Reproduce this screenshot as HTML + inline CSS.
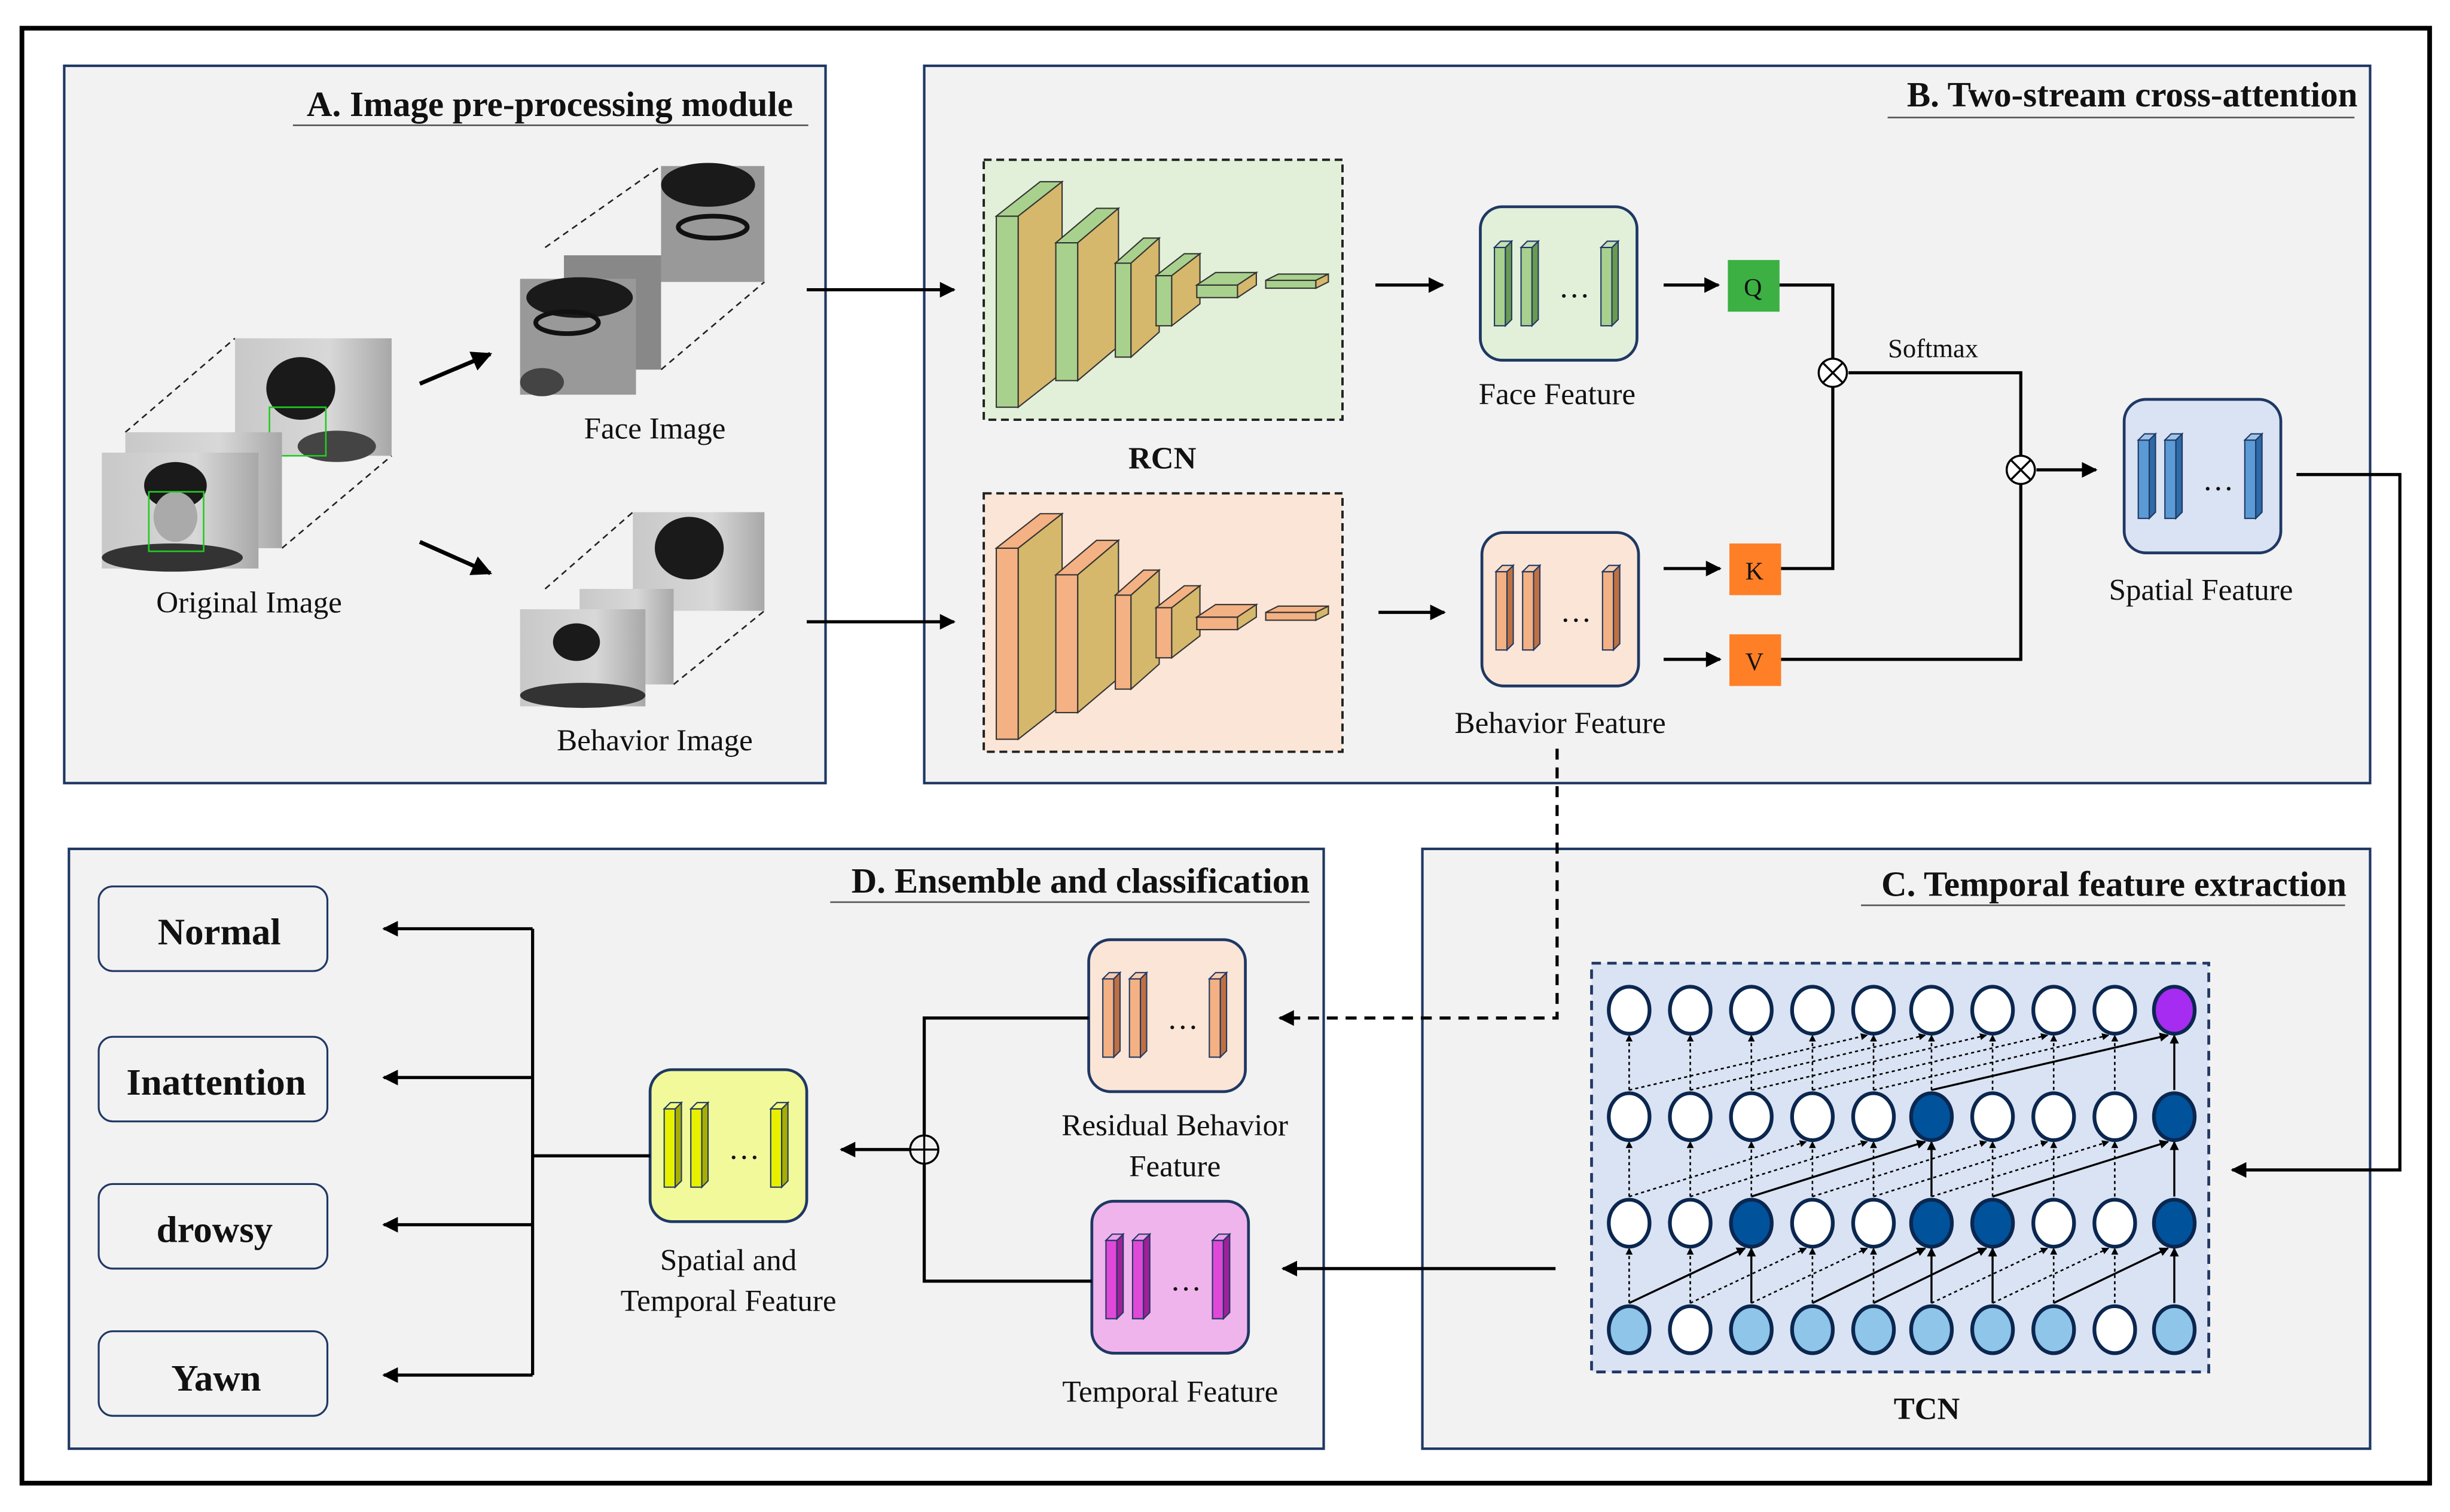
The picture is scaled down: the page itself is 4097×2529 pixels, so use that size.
<!DOCTYPE html>
<html><head><meta charset="utf-8"><style>html,body{margin:0;padding:0;background:#fff}svg{display:block}text{font-family:"Liberation Serif",serif;fill:#111}</style></head>
<body>
<svg width="4097" height="2529" viewBox="0 0 1564 965.4" xmlns="http://www.w3.org/2000/svg">
<defs>
<marker id="ah" viewBox="0 0 10 10" refX="9" refY="5" markerWidth="4.5" markerHeight="4.5" orient="auto-start-reverse"><path d="M0,0L10,5L0,10z" fill="#000"/></marker>
<marker id="sh" viewBox="0 0 10 10" refX="9" refY="5" markerWidth="5" markerHeight="5" orient="auto"><path d="M0,0L10,5L0,10z" fill="#000"/></marker>
<linearGradient id="ph" x1="0" y1="0" x2="1" y2="0"><stop offset="0" stop-color="#c8c8c8"/><stop offset="0.6" stop-color="#d8d8d8"/><stop offset="1" stop-color="#a8a8a8"/></linearGradient>
</defs>
<rect x="0" y="0" width="1564" height="966" fill="#fff"/>
<rect x="14" y="18" width="1537" height="929" fill="#fff" stroke="#000" stroke-width="3"/>
<!-- panels -->
<rect x="41" y="42" width="486" height="458" fill="#f2f2f2" stroke="#1f3864" stroke-width="1.6"/>
<rect x="590" y="42" width="923" height="458" fill="#f2f2f2" stroke="#1f3864" stroke-width="1.6"/>
<rect x="44" y="542" width="801" height="383" fill="#f2f2f2" stroke="#1f3864" stroke-width="1.6"/>
<rect x="908" y="542" width="605" height="383" fill="#f2f2f2" stroke="#1f3864" stroke-width="1.6"/>

<!-- titles -->
<text x="351" y="74" font-size="22.5" font-weight="bold" text-anchor="middle">A.  Image pre-processing module</text>
<line x1="187" y1="80" x2="516" y2="80" stroke="#555" stroke-width="1"/>
<text x="1505" y="68" font-size="22.5" font-weight="bold" text-anchor="end">B. Two-stream cross-attention</text>
<line x1="1205" y1="75" x2="1503" y2="75" stroke="#555" stroke-width="1"/>
<text x="836" y="570" font-size="22.5" font-weight="bold" text-anchor="end">D. Ensemble and classification</text>
<line x1="530" y1="576" x2="836" y2="576" stroke="#555" stroke-width="1"/>
<text x="1498" y="572" font-size="22.5" font-weight="bold" text-anchor="end">C. Temporal feature extraction</text>
<line x1="1188" y1="578" x2="1497" y2="578" stroke="#555" stroke-width="1"/>

<!-- Panel A images -->
<g stroke="#222" stroke-width="1" stroke-dasharray="4,3" fill="none">
<line x1="80" y1="276" x2="150" y2="216"/><line x1="180" y1="350" x2="250" y2="291"/>
<line x1="348" y1="158" x2="422" y2="106"/><line x1="422" y1="236" x2="488" y2="180"/>
<line x1="348" y1="376" x2="404" y2="327"/><line x1="430" y1="437" x2="488" y2="390"/>
</g>
<g>
<rect x="150" y="216" width="100" height="75" fill="url(#ph)"/><ellipse cx="192" cy="248" rx="22" ry="20" fill="#1a1a1a"/><ellipse cx="215" cy="285" rx="25" ry="10" fill="#444"/><rect x="172" y="260" width="36" height="31" fill="none" stroke="#2c2" stroke-width="1"/>
<rect x="80" y="276" width="100" height="74" fill="url(#ph)"/>
<rect x="65" y="289" width="100" height="74" fill="url(#ph)"/><ellipse cx="112" cy="310" rx="20" ry="15" fill="#1a1a1a"/><ellipse cx="112" cy="330" rx="14" ry="16" fill="#aaa"/><ellipse cx="110" cy="356" rx="45" ry="9" fill="#333"/><rect x="95" y="314" width="35" height="38" fill="none" stroke="#2c2" stroke-width="1"/>
<rect x="422" y="106" width="66" height="74" fill="#999"/><ellipse cx="452" cy="118" rx="30" ry="14" fill="#1a1a1a"/><ellipse cx="455" cy="145" rx="22" ry="7" fill="none" stroke="#111" stroke-width="3"/>
<rect x="360" y="163" width="62" height="73" fill="#888"/>
<rect x="332" y="178" width="74" height="74" fill="#999"/><ellipse cx="370" cy="190" rx="34" ry="13" fill="#1a1a1a"/><ellipse cx="362" cy="206" rx="20" ry="7" fill="none" stroke="#111" stroke-width="3"/><ellipse cx="346" cy="244" rx="14" ry="9" fill="#444"/>
<rect x="404" y="327" width="84" height="63" fill="url(#ph)"/><ellipse cx="440" cy="350" rx="22" ry="20" fill="#1a1a1a"/>
<rect x="370" y="376" width="60" height="61" fill="url(#ph)"/>
<rect x="332" y="389" width="80" height="62" fill="url(#ph)"/><ellipse cx="368" cy="410" rx="15" ry="12" fill="#1a1a1a"/><ellipse cx="372" cy="444" rx="40" ry="8" fill="#333"/>
</g>
<g stroke="#000" stroke-width="2.6" marker-end="url(#sh)">
<line x1="268" y1="245" x2="313" y2="226"/><line x1="268" y1="346" x2="313" y2="366"/>
</g>
<g font-size="19.5" text-anchor="middle">
<text x="418" y="280">Face Image</text><text x="159" y="391">Original Image</text><text x="418" y="479">Behavior Image</text>
</g>
<g stroke="#000" stroke-width="2" marker-end="url(#sh)">
<line x1="515" y1="185" x2="609" y2="185"/><line x1="515" y1="397" x2="609" y2="397"/>
</g>

<!-- RCN green -->
<rect x="628" y="102" width="229" height="166" fill="#e2f0d9" stroke="#222" stroke-width="1.5" stroke-dasharray="5,3"/>
<g stroke="#333" stroke-width="0.8">
<rect x="636" y="138" width="14" height="122" fill="#a9d18e"/><polygon points="636,138 664,116 678,116 650,138" fill="#a9d18e"/><polygon points="650,138 678,116 678,238 650,260" fill="#d6b86c"/>
<rect x="674" y="155" width="14" height="88" fill="#a9d18e"/><polygon points="674,155 700,133 714,133 688,155" fill="#a9d18e"/><polygon points="688,155 714,133 714,221 688,243" fill="#d6b86c"/>
<rect x="712" y="168" width="10" height="60" fill="#a9d18e"/><polygon points="712,168 730,152 740,152 722,168" fill="#a9d18e"/><polygon points="722,168 740,152 740,212 722,228" fill="#d6b86c"/>
<rect x="738" y="176" width="10" height="32" fill="#a9d18e"/><polygon points="738,176 756,162 766,162 748,176" fill="#a9d18e"/><polygon points="748,176 766,162 766,194 748,208" fill="#d6b86c"/>
<rect x="764" y="182" width="26" height="8" fill="#a9d18e"/><polygon points="764,182 776,174 802,174 790,182" fill="#a9d18e"/><polygon points="790,182 802,174 802,182 790,190" fill="#d6b86c"/>
<rect x="808" y="179" width="32" height="5" fill="#a9d18e"/><polygon points="808,179 816,175 848,175 840,179" fill="#a9d18e"/><polygon points="840,179 848,175 848,180 840,184" fill="#d6b86c"/>
</g>
<text x="742" y="299" font-size="20" font-weight="bold" text-anchor="middle">RCN</text>
<!-- RCN orange -->
<rect x="628" y="315" width="229" height="165" fill="#fbe5d6" stroke="#222" stroke-width="1.5" stroke-dasharray="5,3"/>
<g stroke="#333" stroke-width="0.8" transform="translate(0,212)">
<rect x="636" y="138" width="14" height="122" fill="#f4b183"/><polygon points="636,138 664,116 678,116 650,138" fill="#f4b183"/><polygon points="650,138 678,116 678,238 650,260" fill="#d6b86c"/>
<rect x="674" y="155" width="14" height="88" fill="#f4b183"/><polygon points="674,155 700,133 714,133 688,155" fill="#f4b183"/><polygon points="688,155 714,133 714,221 688,243" fill="#d6b86c"/>
<rect x="712" y="168" width="10" height="60" fill="#f4b183"/><polygon points="712,168 730,152 740,152 722,168" fill="#f4b183"/><polygon points="722,168 740,152 740,212 722,228" fill="#d6b86c"/>
<rect x="738" y="176" width="10" height="32" fill="#f4b183"/><polygon points="738,176 756,162 766,162 748,176" fill="#f4b183"/><polygon points="748,176 766,162 766,194 748,208" fill="#d6b86c"/>
<rect x="764" y="182" width="26" height="8" fill="#f4b183"/><polygon points="764,182 776,174 802,174 790,182" fill="#f4b183"/><polygon points="790,182 802,174 802,182 790,190" fill="#d6b86c"/>
<rect x="808" y="179" width="32" height="5" fill="#f4b183"/><polygon points="808,179 816,175 848,175 840,179" fill="#f4b183"/><polygon points="840,179 848,175 848,180 840,184" fill="#d6b86c"/>
</g>

<!-- feature boxes -->
<g stroke="#1f3864" stroke-width="1.8">
<rect x="945" y="132" width="100" height="98" rx="14" fill="#e2f0d9"/>
<rect x="946" y="340" width="100" height="98" rx="14" fill="#fbe5d6"/>
<rect x="1356" y="255" width="100" height="98" rx="14" fill="#dae3f3"/>
<rect x="695" y="600" width="100" height="97" rx="14" fill="#fbe5d6"/>
<rect x="697" y="767" width="100" height="97" rx="14" fill="#f0b4ec"/>
<rect x="415" y="683" width="100" height="97" rx="14" fill="#f2f99a"/>
</g>
<g stroke="#1f3864" stroke-width="0.8">
<rect x="954" y="158" width="7" height="50" fill="#a9d18e"/><polygon points="961,158 965,154 965,204 961,208" fill="#6a9a50"/><polygon points="954,158 958,154 965,154 961,158" fill="#c5e0b4"/>
<rect x="971" y="158" width="7" height="50" fill="#a9d18e"/><polygon points="978,158 982,154 982,204 978,208" fill="#6a9a50"/><polygon points="971,158 975,154 982,154 978,158" fill="#c5e0b4"/>
<rect x="1022" y="158" width="7" height="50" fill="#a9d18e"/><polygon points="1029,158 1033,154 1033,204 1029,208" fill="#6a9a50"/><polygon points="1022,158 1026,154 1033,154 1029,158" fill="#c5e0b4"/>
</g>
<text x="1005" y="190" font-size="20" text-anchor="middle">…</text>
<g stroke="#1f3864" stroke-width="0.8" transform="translate(1,207)">
<rect x="954" y="158" width="7" height="50" fill="#f4b183"/><polygon points="961,158 965,154 965,204 961,208" fill="#c07040"/><polygon points="954,158 958,154 965,154 961,158" fill="#f8cbad"/>
<rect x="971" y="158" width="7" height="50" fill="#f4b183"/><polygon points="978,158 982,154 982,204 978,208" fill="#c07040"/><polygon points="971,158 975,154 982,154 978,158" fill="#f8cbad"/>
<rect x="1022" y="158" width="7" height="50" fill="#f4b183"/><polygon points="1029,158 1033,154 1033,204 1029,208" fill="#c07040"/><polygon points="1022,158 1026,154 1033,154 1029,158" fill="#f8cbad"/>
</g>
<text x="1006" y="397" font-size="20" text-anchor="middle">…</text>
<g stroke="#1f3864" stroke-width="0.8" transform="translate(411,123)">
<rect x="954" y="158" width="7" height="50" fill="#5b9bd5"/><polygon points="961,158 965,154 965,204 961,208" fill="#2e6aa8"/><polygon points="954,158 958,154 965,154 961,158" fill="#9dc3e6"/>
<rect x="971" y="158" width="7" height="50" fill="#5b9bd5"/><polygon points="978,158 982,154 982,204 978,208" fill="#2e6aa8"/><polygon points="971,158 975,154 982,154 978,158" fill="#9dc3e6"/>
<rect x="1022" y="158" width="7" height="50" fill="#5b9bd5"/><polygon points="1029,158 1033,154 1033,204 1029,208" fill="#2e6aa8"/><polygon points="1022,158 1026,154 1033,154 1029,158" fill="#9dc3e6"/>
</g>
<text x="1416" y="313" font-size="20" text-anchor="middle">…</text>
<g stroke="#1f3864" stroke-width="0.8" transform="translate(-250,467)">
<rect x="954" y="158" width="7" height="50" fill="#f4b183"/><polygon points="961,158 965,154 965,204 961,208" fill="#c07040"/><polygon points="954,158 958,154 965,154 961,158" fill="#f8cbad"/>
<rect x="971" y="158" width="7" height="50" fill="#f4b183"/><polygon points="978,158 982,154 982,204 978,208" fill="#c07040"/><polygon points="971,158 975,154 982,154 978,158" fill="#f8cbad"/>
<rect x="1022" y="158" width="7" height="50" fill="#f4b183"/><polygon points="1029,158 1033,154 1033,204 1029,208" fill="#c07040"/><polygon points="1022,158 1026,154 1033,154 1029,158" fill="#f8cbad"/>
</g>
<text x="755" y="657" font-size="20" text-anchor="middle">…</text>
<g stroke="#1f3864" stroke-width="0.8" transform="translate(-248,634)">
<rect x="954" y="158" width="7" height="50" fill="#e048d8"/><polygon points="961,158 965,154 965,204 961,208" fill="#a02098"/><polygon points="954,158 958,154 965,154 961,158" fill="#f0a0ea"/>
<rect x="971" y="158" width="7" height="50" fill="#e048d8"/><polygon points="978,158 982,154 982,204 978,208" fill="#a02098"/><polygon points="971,158 975,154 982,154 978,158" fill="#f0a0ea"/>
<rect x="1022" y="158" width="7" height="50" fill="#e048d8"/><polygon points="1029,158 1033,154 1033,204 1029,208" fill="#a02098"/><polygon points="1022,158 1026,154 1033,154 1029,158" fill="#f0a0ea"/>
</g>
<text x="757" y="824" font-size="20" text-anchor="middle">…</text>
<g stroke="#1f3864" stroke-width="0.8" transform="translate(-530,550)">
<rect x="954" y="158" width="7" height="50" fill="#e8f000"/><polygon points="961,158 965,154 965,204 961,208" fill="#a8ad00"/><polygon points="954,158 958,154 965,154 961,158" fill="#f6fa80"/>
<rect x="971" y="158" width="7" height="50" fill="#e8f000"/><polygon points="978,158 982,154 982,204 978,208" fill="#a8ad00"/><polygon points="971,158 975,154 982,154 978,158" fill="#f6fa80"/>
<rect x="1022" y="158" width="7" height="50" fill="#e8f000"/><polygon points="1029,158 1033,154 1033,204 1029,208" fill="#a8ad00"/><polygon points="1022,158 1026,154 1033,154 1029,158" fill="#f6fa80"/>
</g>
<text x="475" y="740" font-size="20" text-anchor="middle">…</text>

<g font-size="19.5" text-anchor="middle">
<text x="994" y="258">Face Feature</text><text x="996" y="468">Behavior Feature</text><text x="1405" y="383">Spatial Feature</text>
<text x="750" y="725">Residual Behavior</text><text x="750" y="751">Feature</text>
<text x="747" y="895">Temporal Feature</text>
<text x="465" y="811">Spatial and</text><text x="465" y="837">Temporal Feature</text>
<text x="1234" y="228" font-size="17">Softmax</text>
</g>

<!-- B arrows -->
<g stroke="#000" stroke-width="2" marker-end="url(#sh)">
<line x1="878" y1="182" x2="921" y2="182"/><line x1="1062" y1="182" x2="1097" y2="182"/>
<line x1="880" y1="391" x2="922" y2="391"/><line x1="1062" y1="363" x2="1098" y2="363"/><line x1="1062" y1="421" x2="1098" y2="421"/>
<line x1="1300" y1="300" x2="1338" y2="300"/>
</g>
<rect x="1103" y="166" width="33" height="33" fill="#3cb043"/><text x="1119" y="189" font-size="16" text-anchor="middle">Q</text>
<rect x="1104" y="347" width="33" height="33" fill="#ff7f27"/><text x="1120" y="370" font-size="16" text-anchor="middle">K</text>
<rect x="1104" y="405" width="33" height="33" fill="#ff7f27"/><text x="1120" y="428" font-size="16" text-anchor="middle">V</text>
<g stroke="#000" stroke-width="2" fill="none">
<polyline points="1136,182 1170,182 1170,363 1137,363"/>
<polyline points="1180,238 1290,238 1290,421 1137,421"/>
</g>
<g stroke="#000" stroke-width="1.3" fill="#fff">
<circle cx="1170" cy="238" r="9"/><line x1="1164" y1="232" x2="1176" y2="244"/><line x1="1176" y1="232" x2="1164" y2="244"/>
<circle cx="1290" cy="300" r="9"/><line x1="1284" y1="294" x2="1296" y2="306"/><line x1="1296" y1="294" x2="1284" y2="306"/>
</g>
<polyline points="1466,303 1532,303 1532,747 1425,747" fill="none" stroke="#000" stroke-width="2" marker-end="url(#sh)"/>
<polyline points="994,478 994,650 817,650" fill="none" stroke="#000" stroke-width="2" stroke-dasharray="7,5" marker-end="url(#sh)"/>
<line x1="993" y1="810" x2="819" y2="810" stroke="#000" stroke-width="2" marker-end="url(#sh)"/>

<!-- D connectors -->
<g stroke="#000" stroke-width="2" fill="none">
<polyline points="695,650 590,650 590,818 697,818"/>
<line x1="581" y1="734" x2="537" y2="734" marker-end="url(#sh)"/>
<line x1="415" y1="738" x2="340" y2="738"/>
<line x1="340" y1="593" x2="340" y2="878"/>
<line x1="340" y1="593" x2="245" y2="593" marker-end="url(#sh)"/>
<line x1="340" y1="688" x2="245" y2="688" marker-end="url(#sh)"/>
<line x1="340" y1="782" x2="245" y2="782" marker-end="url(#sh)"/>
<line x1="340" y1="878" x2="245" y2="878" marker-end="url(#sh)"/>
</g>
<g stroke="#000" stroke-width="1.3" fill="#f2f2f2"><circle cx="590" cy="734" r="9"/><line x1="581" y1="734" x2="599" y2="734"/><line x1="590" y1="725" x2="590" y2="743"/></g>
<g stroke="#1f3864" stroke-width="1.2" fill="#f2f2f2">
<rect x="63" y="566" width="146" height="54" rx="9"/><rect x="63" y="662" width="146" height="54" rx="9"/>
<rect x="63" y="756" width="146" height="54" rx="9"/><rect x="63" y="850" width="146" height="54" rx="9"/>
</g>
<g font-size="24" font-weight="bold" text-anchor="middle">
<text x="140" y="603">Normal</text><text x="138" y="699">Inattention</text><text x="137" y="793">drowsy</text><text x="138" y="888">Yawn</text>
</g>

<!-- TCN -->
<rect x="1016" y="615" width="394" height="261" fill="#dae3f3" stroke="#1f3864" stroke-width="1.8" stroke-dasharray="6,4"/>
<text x="1230" y="906" font-size="20" font-weight="bold" text-anchor="middle">TCN</text>
<g stroke="#000" stroke-width="1" stroke-dasharray="2,2" fill="none" marker-end="url(#ah)">
<line x1="1040" y1="832" x2="1040" y2="797"/><line x1="1079" y1="832" x2="1079" y2="797"/><line x1="1157" y1="832" x2="1157" y2="797"/><line x1="1196" y1="832" x2="1196" y2="797"/><line x1="1311" y1="832" x2="1311" y2="797"/><line x1="1350" y1="832" x2="1350" y2="797"/>
<line x1="1040" y1="764" x2="1040" y2="729"/><line x1="1079" y1="764" x2="1079" y2="729"/><line x1="1118" y1="764" x2="1118" y2="729"/><line x1="1157" y1="764" x2="1157" y2="729"/><line x1="1196" y1="764" x2="1196" y2="729"/><line x1="1272" y1="764" x2="1272" y2="729"/><line x1="1311" y1="764" x2="1311" y2="729"/><line x1="1350" y1="764" x2="1350" y2="729"/>
<line x1="1040" y1="696" x2="1040" y2="661"/><line x1="1079" y1="696" x2="1079" y2="661"/><line x1="1118" y1="696" x2="1118" y2="661"/><line x1="1157" y1="696" x2="1157" y2="661"/><line x1="1196" y1="696" x2="1196" y2="661"/><line x1="1233" y1="696" x2="1233" y2="661"/><line x1="1272" y1="696" x2="1272" y2="661"/><line x1="1311" y1="696" x2="1311" y2="661"/><line x1="1350" y1="696" x2="1350" y2="661"/>
<line x1="1079" y1="832" x2="1153" y2="797"/><line x1="1118" y1="832" x2="1192" y2="797"/><line x1="1233" y1="832" x2="1307" y2="797"/><line x1="1272" y1="832" x2="1346" y2="797"/>
<line x1="1040" y1="764" x2="1153" y2="729"/><line x1="1079" y1="764" x2="1192" y2="729"/><line x1="1157" y1="764" x2="1268" y2="729"/><line x1="1196" y1="764" x2="1307" y2="729"/><line x1="1233" y1="764" x2="1346" y2="729"/>
<line x1="1040" y1="696" x2="1192" y2="661"/><line x1="1079" y1="696" x2="1229" y2="661"/><line x1="1118" y1="696" x2="1268" y2="661"/><line x1="1157" y1="696" x2="1307" y2="661"/><line x1="1196" y1="696" x2="1346" y2="661"/>
</g>
<g stroke="#000" stroke-width="1.3" fill="none" marker-end="url(#ah)">
<line x1="1040" y1="832" x2="1114" y2="797"/><line x1="1157" y1="832" x2="1229" y2="797"/><line x1="1196" y1="832" x2="1268" y2="797"/><line x1="1311" y1="832" x2="1384" y2="797"/>
<line x1="1118" y1="832" x2="1118" y2="797"/><line x1="1233" y1="832" x2="1233" y2="797"/><line x1="1272" y1="832" x2="1272" y2="797"/><line x1="1388" y1="832" x2="1388" y2="797"/>
<line x1="1118" y1="764" x2="1229" y2="729"/><line x1="1272" y1="764" x2="1384" y2="729"/>
<line x1="1233" y1="764" x2="1233" y2="729"/><line x1="1388" y1="764" x2="1388" y2="729"/>
<line x1="1233" y1="696" x2="1384" y2="661"/><line x1="1388" y1="696" x2="1388" y2="661"/>
</g>
<g stroke="#0b2750" stroke-width="2.4">
<g fill="#fff"><ellipse cx="1040" cy="645" rx="13" ry="15"/><ellipse cx="1079" cy="645" rx="13" ry="15"/><ellipse cx="1118" cy="645" rx="13" ry="15"/><ellipse cx="1157" cy="645" rx="13" ry="15"/><ellipse cx="1196" cy="645" rx="13" ry="15"/><ellipse cx="1233" cy="645" rx="13" ry="15"/><ellipse cx="1272" cy="645" rx="13" ry="15"/><ellipse cx="1311" cy="645" rx="13" ry="15"/><ellipse cx="1350" cy="645" rx="13" ry="15"/></g>
<ellipse cx="1388" cy="645" rx="13" ry="15" fill="#a52cf0"/>
<g fill="#fff"><ellipse cx="1040" cy="713" rx="13" ry="15"/><ellipse cx="1079" cy="713" rx="13" ry="15"/><ellipse cx="1118" cy="713" rx="13" ry="15"/><ellipse cx="1157" cy="713" rx="13" ry="15"/><ellipse cx="1196" cy="713" rx="13" ry="15"/><ellipse cx="1272" cy="713" rx="13" ry="15"/><ellipse cx="1311" cy="713" rx="13" ry="15"/><ellipse cx="1350" cy="713" rx="13" ry="15"/></g>
<g fill="#00529b"><ellipse cx="1233" cy="713" rx="13" ry="15"/><ellipse cx="1388" cy="713" rx="13" ry="15"/></g>
<g fill="#fff"><ellipse cx="1040" cy="781" rx="13" ry="15"/><ellipse cx="1079" cy="781" rx="13" ry="15"/><ellipse cx="1157" cy="781" rx="13" ry="15"/><ellipse cx="1196" cy="781" rx="13" ry="15"/><ellipse cx="1311" cy="781" rx="13" ry="15"/><ellipse cx="1350" cy="781" rx="13" ry="15"/></g>
<g fill="#00529b"><ellipse cx="1118" cy="781" rx="13" ry="15"/><ellipse cx="1233" cy="781" rx="13" ry="15"/><ellipse cx="1272" cy="781" rx="13" ry="15"/><ellipse cx="1388" cy="781" rx="13" ry="15"/></g>
<g fill="#8ec5e8"><ellipse cx="1040" cy="849" rx="13" ry="15"/><ellipse cx="1118" cy="849" rx="13" ry="15"/><ellipse cx="1157" cy="849" rx="13" ry="15"/><ellipse cx="1196" cy="849" rx="13" ry="15"/><ellipse cx="1233" cy="849" rx="13" ry="15"/><ellipse cx="1272" cy="849" rx="13" ry="15"/><ellipse cx="1311" cy="849" rx="13" ry="15"/><ellipse cx="1388" cy="849" rx="13" ry="15"/></g>
<g fill="#fff"><ellipse cx="1079" cy="849" rx="13" ry="15"/><ellipse cx="1350" cy="849" rx="13" ry="15"/></g>
</g>
</svg>
</body></html>
